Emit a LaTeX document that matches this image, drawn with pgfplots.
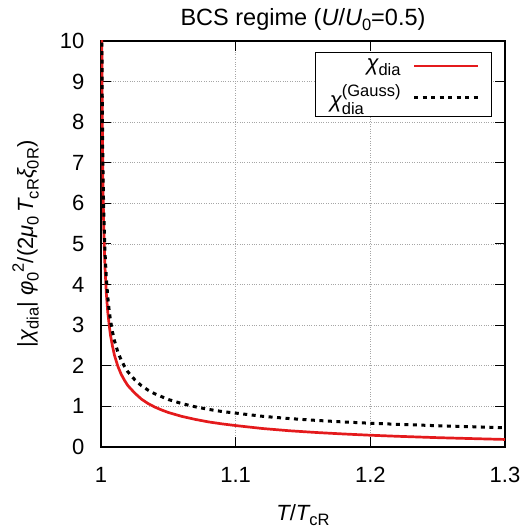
\documentclass[border=0pt]{standalone}
\usepackage{fontspec}
\setmainfont{Liberation Sans}
\usepackage{pgfplots}
\pgfplotsset{compat=1.18}
\usetikzlibrary{calc}
\definecolor{gpred}{RGB}{228,26,28}
\newcommand{\sbs}[1]{\raisebox{-0.25em}{\fontsize{16.5bp}{16.5bp}\selectfont #1}}
\newcommand{\sps}[1]{\raisebox{0.42em}{\fontsize{16.5bp}{16.5bp}\selectfont #1}}
\newcommand{\lsbs}[1]{\raisebox{-0.32em}{\fontsize{16.5bp}{16.5bp}\selectfont #1}}
\newcommand{\lsps}[1]{\raisebox{0.5em}{\fontsize{16.5bp}{16.5bp}\selectfont #1}}
\begin{document}
\fontsize{22bp}{26bp}\selectfont
\begin{tikzpicture}[font=\fontsize{22bp}{26bp}\selectfont]
\begin{axis}[
  name=ax,
  scale only axis, width=404bp, height=406bp,
  xmin=1, xmax=1.3, ymin=0, ymax=10,
  xtick={1,1.1,1.2,1.3}, xticklabels={1,1.1,1.2,1.3},
  ytick={0,1,2,3,4,5,6,7,8,9,10},
  yticklabels={0,1,2,3,4,5,6,7,8,9,10},
  /pgf/number format/assume math mode=true,
  tick align=inside, major tick length=10bp,
  tick style={black, line width=1bp},
  axis line style={black, line width=1.5bp},
  grid=major, grid style={dotted, gray!70, line width=0.8bp},
  xticklabel style={yshift=-13bp},
  yticklabel style={xshift=-9bp},
  title={BCS regime ({\itshape U}/{\itshape U}\sbs{0}=0.5)},
  title style={at={(axis description cs:0.5,1.0246)}, anchor=base, font=\fontsize{23.5bp}{26bp}\selectfont},
  xlabel={{\itshape T}/{\itshape T}\sbs{cR}},
  xlabel style={at={(axis description cs:0.5,-0.180)}, anchor=base},
  ylabel={|{\itshape χ}\sbs{dia}| {\itshape φ}\sbs{0}\sps{2}/(2{\itshape μ}\sbs{0}\,{\itshape T}\sbs{cR}{\itshape ξ}\sbs{0R})},
  ylabel style={at={(axis description cs:-0.1683,0.5)}, anchor=base, rotate=0},
  legend plot pos=right,
  legend cell align=right,
  legend style={at={(axis description cs:0.968,0.973)}, anchor=north east,
    draw=black, line width=1bp, fill=white, inner xsep=12bp, inner ysep=4bp,
    row sep=7bp, column sep=10bp},
  legend image code/.code={\draw[#1] (0bp,0bp) -- (64bp,0bp);},
]
\addplot[gpred, line width=2.7bp] coordinates {
(1.0004,12.7)(1.0005,11.3)(1.0006,10.3)(1.0007,9.50)(1.0008,8.93)(1.001,7.89)(1.0012,7.22)(1.0015,6.37)(1.002,5.47)(1.0025,4.88)(1.003,4.40)(1.004,3.76)(1.005,3.33)(1.006,3.03)(1.007,2.76)(1.0085,2.49)(1.01,2.26)(1.0125,1.99)(1.015,1.79)(1.0175,1.64)(1.02,1.51)(1.025,1.33)(1.03,1.18)(1.035,1.07)(1.04,0.983)(1.045,0.912)(1.05,0.850)(1.06,0.754)(1.07,0.680)(1.08,0.617)(1.09,0.569)(1.1,0.528)(1.12,0.455)(1.14,0.400)(1.16,0.357)(1.18,0.321)(1.2,0.290)(1.22,0.264)(1.25,0.230)(1.28,0.203)(1.3,0.186)
};
\addlegendentry{{\itshape χ}\sbs{dia}}
\addplot[black, line width=3bp, dash pattern=on 4bp off 4.5bp] coordinates {
(1.0004,13.1)(1.0005,11.7)(1.0006,10.7)(1.0007,9.90)(1.0008,9.26)(1.001,8.29)(1.0012,7.56)(1.0015,6.76)(1.002,5.86)(1.0025,5.24)(1.003,4.78)(1.004,4.14)(1.005,3.71)(1.006,3.38)(1.007,3.13)(1.0085,2.84)(1.01,2.62)(1.0125,2.34)(1.015,2.14)(1.0175,1.98)(1.02,1.85)(1.025,1.66)(1.03,1.51)(1.035,1.40)(1.04,1.31)(1.045,1.24)(1.05,1.17)(1.06,1.07)(1.07,0.990)(1.08,0.926)(1.09,0.873)(1.1,0.835)(1.12,0.756)(1.14,0.700)(1.16,0.655)(1.18,0.617)(1.2,0.585)(1.22,0.559)(1.25,0.524)(1.28,0.495)(1.3,0.475)
};
\addlegendentry{{\itshape χ}\rlap{\lsbs{dia}}\lsps{(Gauss)}}
\end{axis}
\pgfresetboundingbox
\path ($(ax.south west)+(-101bp,-82bp)$) rectangle ($(ax.north east)+(22bp,41bp)$);
\end{tikzpicture}
\end{document}
